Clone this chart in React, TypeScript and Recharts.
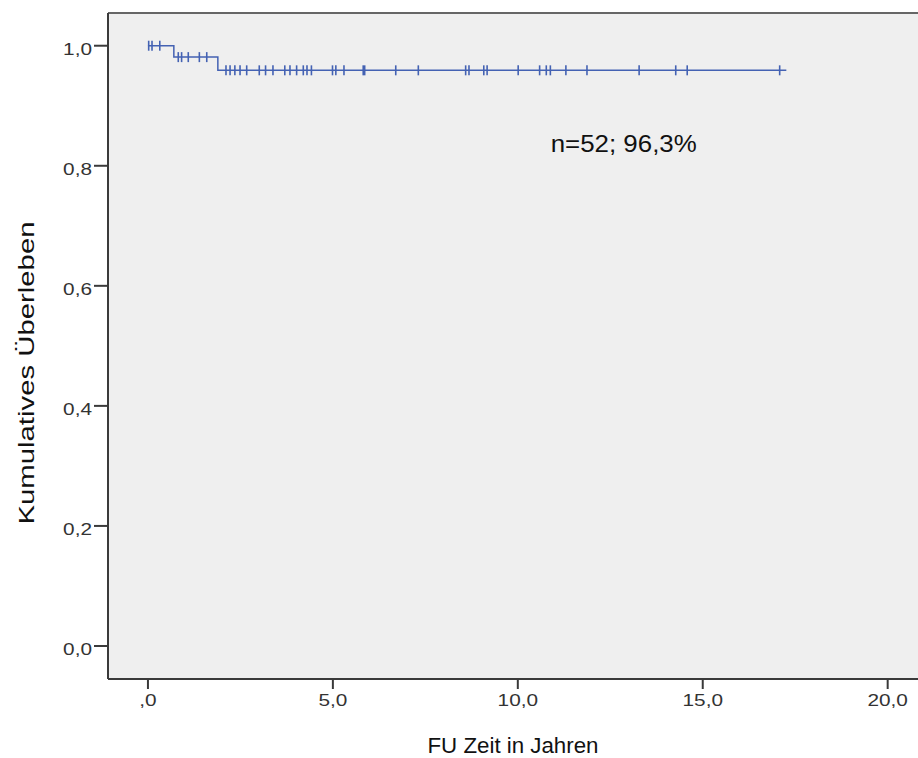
import React from "react";
import {
  ComposedChart,
  Line,
  Scatter,
  XAxis,
  YAxis,
  CartesianGrid,
  ReferenceLine,
  ReferenceDot,
  Label,
} from "recharts";

// Kaplan-Meier steps (time in years, cumulative survival)
const stepTimes = [0, 0.7, 1.89, 17.26];
const stepSurvival = [1.0, 0.981, 0.959, 0.959];

// censored cases, grouped by the survival level they sit on
const censoredAt100 = [0.02, 0.11, 0.32];
const censoredAt981 = [0.82, 0.91, 1.09, 1.39, 1.59];
const censoredAt959 = [
  2.11, 2.22, 2.35, 2.49, 2.67, 3.01, 3.18, 3.38, 3.7, 3.84, 4.02, 4.2, 4.3,
  4.42, 4.99, 5.08, 5.3, 5.82, 5.86, 6.7, 7.31, 8.59, 8.68, 9.08, 9.17, 10.01,
  10.59, 10.77, 10.88, 11.3, 11.87, 13.28, 14.27, 14.58, 17.08,
];

const xTicks = [0, 5, 10, 15, 20];
const yTicks = [0, 0.2, 0.4, 0.6, 0.8, 1.0];

const annotation = "n=52; 96,3%";
const xTitle = "FU Zeit in Jahren";
const yTitle = "Kumulatives Überleben";

const FONT = "'Liberation Sans', Arial, sans-serif";
const BLUE = "#4462b3";
const AXIS = "#3a3a3a";

const curveData = stepTimes.map((t, i) => ({ t, s: stepSurvival[i] }));
const censorData = [
  ...censoredAt100.map((t) => ({ t, s: stepSurvival[0] })),
  ...censoredAt981.map((t) => ({ t, s: stepSurvival[1] })),
  ...censoredAt959.map((t) => ({ t, s: stepSurvival[2] })),
];

const fmtX = (v: number) => (v === 0 ? ",0" : v.toFixed(1).replace(".", ","));
const fmtY = (v: number) => v.toFixed(1).replace(".", ",");

const XTick = (props: any) => {
  const { x, y, payload } = props;
  return (
    <g transform={`translate(${x},${y + 15}) scale(1.3,1)`}>
      <text textAnchor="middle" fontFamily={FONT} fontSize={16} fill="#333">
        {fmtX(payload.value)}
      </text>
    </g>
  );
};

const YTick = (props: any) => {
  const { x, y, payload } = props;
  return (
    <g transform={`translate(${x},${y + 9}) scale(1.3,1)`}>
      <text textAnchor="end" fontFamily={FONT} fontSize={16} fill="#333">
        {fmtY(payload.value)}
      </text>
    </g>
  );
};

const CensorMark = (props: any) => {
  const { cx, cy } = props;
  return (
    <line
      x1={cx}
      x2={cx}
      y1={cy - 5}
      y2={cy + 5}
      stroke={BLUE}
      strokeWidth={1.6}
    />
  );
};

export default function App() {
  return (
    <div style={{ position: "absolute", left: 0, top: 0, width: 918, height: 758 }}>
      <ComposedChart
        width={918}
        height={758}
        margin={{ top: 13, right: 0, bottom: 0, left: 0 }}
      >
        <CartesianGrid
          fill="#efefef"
          horizontal={false}
          vertical={false}
        />
        <XAxis
          type="number"
          dataKey="t"
          domain={[-1.08, 20.82]}
          ticks={xTicks}
          allowDataOverflow
          height={79}
          tickSize={10}
          tickMargin={2}
          tick={<XTick />}
          axisLine={{ stroke: AXIS, strokeWidth: 2 }}
          tickLine={{ stroke: AXIS, strokeWidth: 2 }}
        >
          <Label
            content={(p: any) => {
              const vb = p.viewBox;
              return (
                <text
                  x={vb.x + vb.width / 2}
                  y={vb.y + 74}
                  textAnchor="middle"
                  fontFamily={FONT}
                  fontSize={22}
                  fill="#111"
                  textLength={171}
                  lengthAdjust="spacingAndGlyphs"
                >
                  {xTitle}
                </text>
              );
            }}
          />
        </XAxis>
        <YAxis
          type="number"
          dataKey="s"
          domain={[-0.055, 1.0545]}
          ticks={yTicks}
          allowDataOverflow
          width={108}
          tickSize={14}
          tickMargin={2}
          tick={<YTick />}
          axisLine={{ stroke: AXIS, strokeWidth: 2 }}
          tickLine={{ stroke: AXIS, strokeWidth: 2 }}
        >
          <Label
            content={(p: any) => {
              const vb = p.viewBox;
              const cx = 34;
              const cy = vb.y + vb.height / 2 + 27;
              return (
                <text
                  x={cx}
                  y={cy}
                  transform={`rotate(-90, ${cx}, ${cy})`}
                  textAnchor="middle"
                  fontFamily={FONT}
                  fontSize={22}
                  fill="#111"
                  textLength={303}
                  lengthAdjust="spacingAndGlyphs"
                >
                  {yTitle}
                </text>
              );
            }}
          />
        </YAxis>
        <ReferenceLine y={1.0545} stroke="#666" strokeWidth={2} />
        <Line
          data={curveData}
          dataKey="s"
          type="stepAfter"
          stroke={BLUE}
          strokeWidth={1.5}
          dot={false}
          activeDot={false}
          isAnimationActive={false}
        />
        <Scatter
          data={censorData}
          dataKey="s"
          shape={<CensorMark />}
          isAnimationActive={false}
        />
        <ReferenceDot
          x={10.89}
          y={0.823}
          r={0}
          fill="none"
          stroke="none"
          label={(p: any) => {
            const vb = p.viewBox;
            return (
              <text
                x={vb.x}
                y={vb.y}
                fontFamily={FONT}
                fontSize={23}
                fill="#111"
                textLength={146}
                lengthAdjust="spacingAndGlyphs"
              >
                {annotation}
              </text>
            );
          }}
        />
      </ComposedChart>
    </div>
  );
}
